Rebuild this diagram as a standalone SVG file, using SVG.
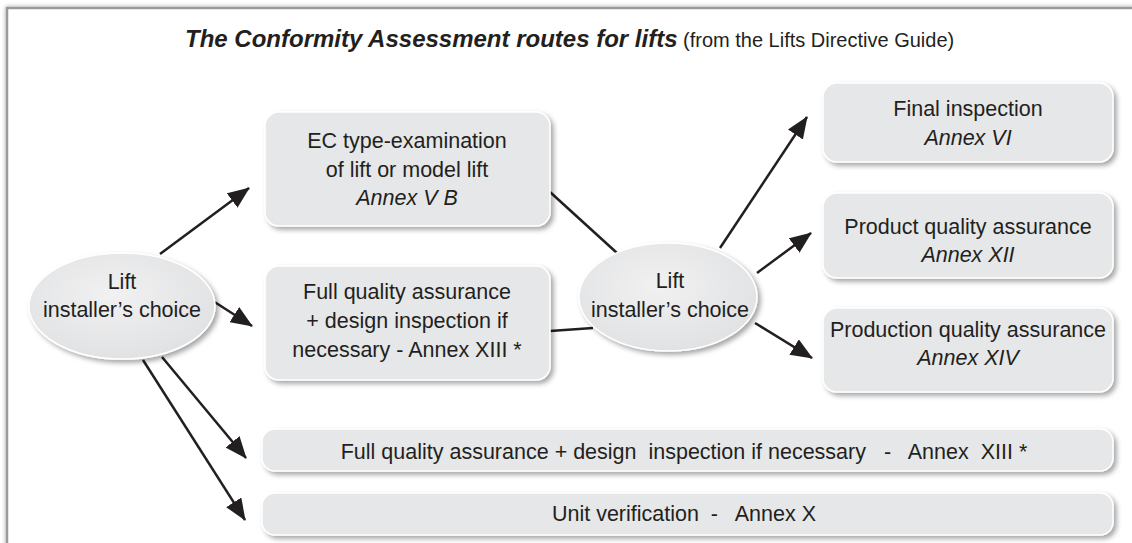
<svg xmlns="http://www.w3.org/2000/svg" width="1132" height="543" viewBox="0 0 1132 543">
<defs>
<filter id="sh" x="-10%" y="-20%" width="125%" height="150%">
<feDropShadow dx="3" dy="3" stdDeviation="2.5" flood-color="#000" flood-opacity="0.35"/>
</filter>
<filter id="fsh" x="-5%" y="-5%" width="110%" height="110%">
<feDropShadow dx="0" dy="0" stdDeviation="2" flood-color="#000" flood-opacity="0.35"/>
</filter>
<radialGradient id="eg" cx="45%" cy="40%" r="60%">
<stop offset="0" stop-color="#f1f1f2"/>
<stop offset="1" stop-color="#e1e2e3"/>
</radialGradient>
<marker id="ah" viewBox="0 0 22 18" refX="21" refY="9" markerWidth="22" markerHeight="18" markerUnits="userSpaceOnUse" orient="auto">
<path d="M0,0 L22,9 L0,18 z" fill="#231f20"/>
</marker>
<style>
text{font-family:"Liberation Sans",Arial,sans-serif;fill:#231f20;font-size:21.5px;text-anchor:middle}
.box{fill:#e6e7e8;stroke:#ffffff;stroke-width:1.5;filter:url(#sh)}
.ell{fill:url(#eg);stroke:#ffffff;stroke-width:1.5;filter:url(#sh)}
.it{font-style:italic}
.ln{stroke:#231f20;stroke-width:2.5;fill:none}
.ar{marker-end:url(#ah)}
</style>
</defs>
<rect width="1132" height="543" fill="#ffffff"/>
<rect id="frame" x="7" y="8" width="1150" height="560" fill="#ffffff" stroke="#9a9a9a" stroke-width="2.5" filter="url(#fsh)"/>
<g id="title">
<text x="185" y="47" style="text-anchor:start"><tspan style="font-weight:bold;font-style:italic;font-size:24px">The Conformity Assessment routes for lifts</tspan><tspan x="683" style="font-size:20px">(from the Lifts Directive Guide)</tspan></text>
</g>
<g id="connectors">
<line class="ln ar" x1="160" y1="254" x2="249" y2="188"/>
<line class="ln ar" x1="213" y1="301" x2="252" y2="326"/>
<line class="ln ar" x1="162" y1="357" x2="246" y2="458"/>
<line class="ln ar" x1="143" y1="360" x2="245" y2="520"/>
<line class="ln" x1="550" y1="192" x2="617" y2="253"/>
<line class="ln" x1="550" y1="331" x2="593" y2="328"/>
<line class="ln ar" x1="720" y1="248" x2="807" y2="117"/>
<line class="ln ar" x1="757" y1="273" x2="811" y2="233"/>
<line class="ln ar" x1="755" y1="323" x2="812" y2="358"/>
</g>
<g id="choice1">
<ellipse class="ell" cx="122" cy="306" rx="93" ry="53"/>
<text x="122" y="289">Lift</text>
<text x="122" y="317">installer’s choice</text>
</g>
<g id="ec-type">
<rect class="box" x="265" y="112" width="285" height="114" rx="14"/>
<text x="407" y="148">EC type-examination</text>
<text x="407" y="177">of lift or model lift</text>
<text x="407" y="205" class="it">Annex V B</text>
</g>
<g id="fqa">
<rect class="box" x="265" y="266" width="285" height="114" rx="14"/>
<text x="407" y="299">Full quality assurance</text>
<text x="407" y="328">+ design inspection if</text>
<text x="407" y="357">necessary - Annex XIII *</text>
</g>
<g id="choice2">
<ellipse class="ell" cx="668" cy="297" rx="89" ry="54"/>
<text x="670" y="288">Lift</text>
<text x="670" y="317">installer’s choice</text>
</g>
<g id="final">
<rect class="box" x="823" y="83" width="290" height="79" rx="14"/>
<text x="968" y="116">Final inspection</text>
<text x="968" y="145" class="it">Annex VI</text>
</g>
<g id="product">
<rect class="box" x="823" y="193" width="290" height="85" rx="14"/>
<text x="968" y="234">Product quality assurance</text>
<text x="968" y="262" class="it">Annex XII</text>
</g>
<g id="production">
<rect class="box" x="823" y="308" width="290" height="84" rx="14"/>
<text x="968" y="337">Production quality assurance</text>
<text x="968" y="365" class="it">Annex XIV</text>
</g>
<g id="fqa-bottom">
<rect class="box" x="262" y="429" width="851" height="42" rx="13"/>
<text x="684" y="459" xml:space="preserve" style="white-space:pre">Full quality assurance + design  inspection if necessary   -   Annex  XIII *</text>
</g>
<g id="unit">
<rect class="box" x="262" y="493" width="851" height="42" rx="13"/>
<text x="684" y="521" xml:space="preserve" style="white-space:pre">Unit verification  -   Annex X</text>
</g>
</svg>
